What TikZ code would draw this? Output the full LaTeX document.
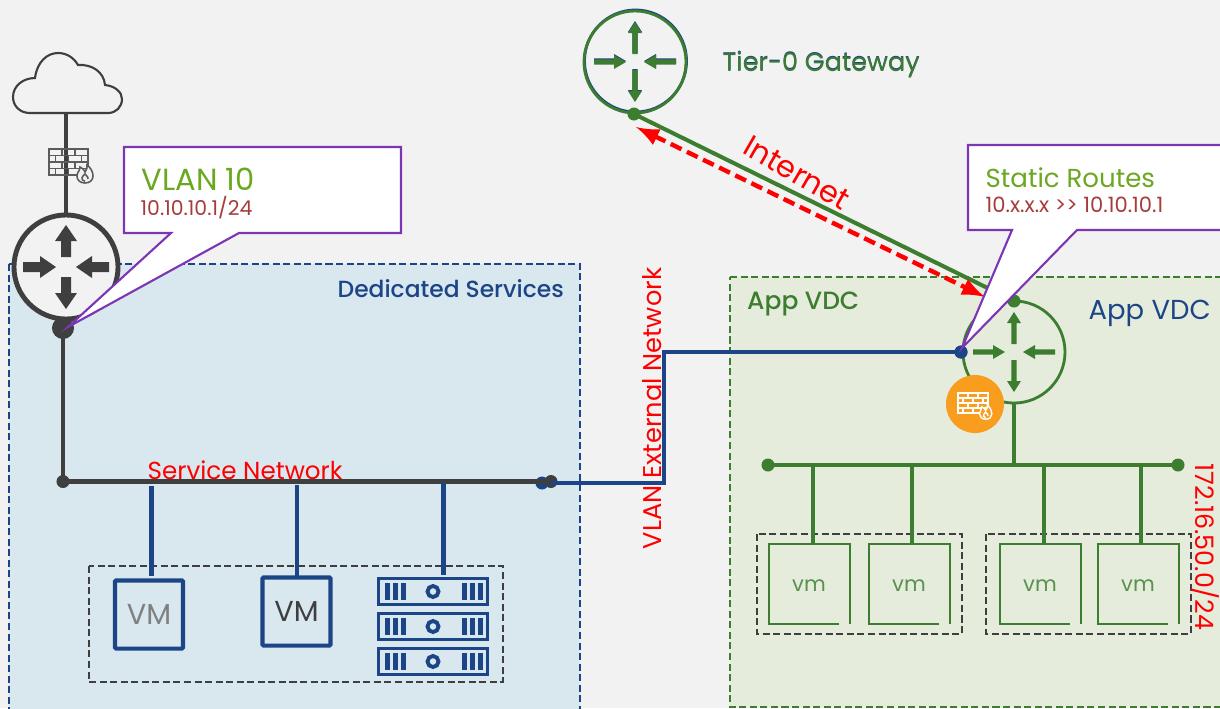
\documentclass[tikz,border=0pt]{standalone}
\usepackage{fontspec}
\setmainfont{Poppins}
\newfontfamily\medfont{Poppins Medium}
\usetikzlibrary{arrows,shapes}
\definecolor{pagegrey}{HTML}{F2F2F2}
\definecolor{svcfill}{HTML}{D9E7EF}
\definecolor{vdcfill}{HTML}{E5ECDC}
\definecolor{navy}{HTML}{1C4587}
\definecolor{leaf}{HTML}{3C7D2F}
\definecolor{coal}{HTML}{3F3F3F}
\definecolor{callout}{HTML}{7B35B5}
\definecolor{lime}{HTML}{6AA820}
\definecolor{rust}{HTML}{A83C3C}
\definecolor{amber}{HTML}{F99D1F}
\tikzset{>=latex,
    lbl/.style={inner sep=0pt,font=\fontsize{#1}{9pt}\selectfont},
    medlbl/.style={inner sep=0pt,font=\medfont\fontsize{#1}{9pt}\selectfont},
    smalllbl/.style={lbl=#1,text=rust},
    dot/.style={circle,fill=#1,inner sep=0pt,minimum size=0.13cm},
    grouped/.style={draw=coal,dashed,line width=0.6pt,dash pattern=on 2pt off 1pt},
    vmbox/.style={draw=navy,line width=1.15pt,rounded corners=0.3pt,inner sep=0pt,minimum size=0.68cm,font=\fontsize{8.2pt}{9pt}\selectfont},
    coalline/.style={draw=coal,line width=1.25pt},
    navyline/.style={draw=navy,line width=1.15pt},
    leafline/.style={draw=leaf,line width=1.15pt},
    callbox/.style={draw=callout,fill=white,line width=0.6pt,line join=miter},
    bigarms/.pic={
        \foreach \a in {90,270}{
            \fill[rotate=\a] (10,-5) -- (26,-5) -- (26,-11) -- (42,0) -- (26,11) -- (26,5) -- (10,5) -- cycle;}
        \foreach \a in {0,180}{
            \fill[rotate=\a] (43,-5) -- (26,-5) -- (26,-11) -- (10,0) -- (26,11) -- (26,5) -- (43,5) -- cycle;}},
    smallarms/.pic={
        \foreach \a in {90,270}{
            \fill[rotate=\a] (8,-2.7) -- (29,-2.7) -- (29,-7) -- (40,0) -- (29,7) -- (29,2.7) -- (8,2.7) -- cycle;}
        \foreach \a in {0,180}{
            \fill[rotate=\a] (41,-2.7) -- (21,-2.7) -- (21,-7) -- (9,0) -- (21,7) -- (21,2.7) -- (41,2.7) -- cycle;}},
    wall/.pic={
        \draw (0,0) rectangle (39,26);
        \foreach \y in {6.5,13,19.5} {\draw (0,\y) -- (39,\y);}
        \foreach \x in {13,26} {\draw (\x,0) -- (\x,6.5); \draw (\x,13) -- (\x,19.5);}
        \foreach \x in {6.5,19.5,32.5} {\draw (\x,6.5) -- (\x,13); \draw (\x,19.5) -- (\x,26);}
        \draw[pic actions] (36,34) .. controls (31,34) and (28,31) .. (28,27) .. controls (28,23) and (31,22) .. (31,18)
            .. controls (34,19) and (35,21) .. (36,23) .. controls (38,21) and (38,18) .. (38,16)
            .. controls (42,19) and (44,23) .. (44,27) .. controls (44,31) and (41,34) .. (36,34) -- cycle;
        \draw (36,32) .. controls (33,32) and (32,29) .. (34,27) .. controls (35,26) and (36,25) .. (36,25)
            .. controls (38,27) and (40,29) .. (39,30);},
    rack/.pic={
        \draw[navy,line width=1.1pt] (1.5,1.5) rectangle (110.5,27.5);
        \foreach \x in {8,16,24,85,93,101} {\fill[navy] (\x,6) rectangle +(5,17);}
        \draw[navy,line width=1.1pt] (56,14.5) circle (5.5);}
}

\begin{document}
\begin{tikzpicture}[x=0.01cm,y=-0.01cm]
    \clip (0,0) rectangle (1220,708);
    \fill[pagegrey] (0,0) rectangle (1220,708);

    % the two zones
    \draw[fill=svcfill,draw=navy,line width=0.5pt,dash pattern=on 2pt off 1pt] (9,264) -- (580,264) -- (580,720) -- (9,720) -- cycle;
    \draw[fill=vdcfill,draw=leaf,line width=0.5pt,dash pattern=on 2pt off 1pt] (730,277) -- (1230,277) -- (1230,707) -- (730,707) -- cycle;
    \node[medlbl=6.65pt,text=navy,anchor=west] (svclabel) at (337,288.5) {Dedicated Services};
    \node[medlbl=7.1pt,text=leaf,anchor=west] (vdcgreen) at (746.5,303.5) {App VDC};
    \node[lbl=7.8pt,text=navy,anchor=west] (vdcnavy) at (1088,313) {App VDC};

    % uplink side
    \draw[coal,line width=0.6pt,fill=pagegrey] (30,113) .. controls (20,113) and (13,106) .. (13,97) .. controls (13,86) and (23,78) .. (35,78)
        .. controls (37,62) and (47,53) .. (58,53) .. controls (67,53) and (74,58) .. (78,65) .. controls (92,64) and (104,72) .. (105,85)
        .. controls (115,86) and (122,92) .. (122,99) .. controls (122,107) and (116,113) .. (108,113) -- cycle;
    \node[circle,draw=coal,fill=pagegrey,line width=1.4pt,inner sep=0pt,minimum size=1.04cm] (edge) at (66,267) {};
    \coordinate (cloudfoot) at (66,113);
    \draw[coalline] (cloudfoot) -- (edge);
    \pic[color=coal] at (66,267) {bigarms};
    \pic[color=coal!85,fill=pagegrey,line width=0.45pt] at (49,149) {wall};
    \node[dot=coal,minimum size=0.22cm] (edgeport) at (63,328) {};
    \node[dot=coal] (svcleft) at (63,481.5) {};
    \node[dot=navy] (svcnavy) at (542,483) {};
    \node[dot=coal] (svcright) at (551,481.5) {};
    \node[dot=navy] (t1port) at (961,352) {};
    \coordinate (risebottom) at (664,483);
    \coordinate (risetop) at (664,352);
    \draw[navyline] (svcnavy.center) -- (risebottom) -- (risetop) -- (t1port.center);
    \draw[coalline] (edgeport.center) -- (svcleft.center) -- (svcright.center);
    \node[lbl=7pt,text=red,anchor=west] (svcnet) at (147,470) {Service Network};
    \node[lbl=7.3pt,text=red,rotate=90] (extnet) at (652,408.5) {VLAN External Network};

    % workloads on the service network
    \draw[grouped] (89,566) rectangle (503,682);
    \node[vmbox,text=gray] (vmone) at (149,614.5) {VM};
    \node[vmbox,text=coal] (vmtwo) at (296.5,611.5) {VM};
    \pic at (377,577) {rack};
    \pic at (377,612) {rack};
    \pic at (377,647) {rack};
    \coordinate (tapone) at (151.5,486);
    \coordinate (taponeb) at (151.5,576);
    \coordinate (taptwo) at (297,485);
    \coordinate (taptwob) at (297,577);
    \coordinate (tapthree) at (443.5,483);
    \coordinate (tapthreeb) at (443.5,575);
    \draw[navyline] (tapone) -- (taponeb);
    \draw[navyline] (taptwo) -- (taptwob);
    \draw[navyline] (tapthree) -- (tapthreeb);

    % tier-0
    \node[circle,draw=navy,line width=0.8pt,inner sep=0pt,minimum size=1.02cm] at (635.5,61) {};
    \node[circle,draw=leaf,line width=0.8pt,inner sep=0pt,minimum size=1.02cm] (tzero) at (635,62) {};
    \pic[color=navy] at (635,61) {smallarms};
    \pic[color=leaf] at (635,62) {smallarms};
    \node[lbl=7.25pt,text=navy,anchor=west] at (722,64) {Tier-0 Gateway};
    \node[lbl=7.25pt,text=leaf,anchor=west] (tzerolabel) at (722,65) {Tier-0 Gateway};
    \node[dot=leaf] (tzeroport) at (634,114) {};

    % tier-1
    \node[circle,draw=leaf,line width=0.8pt,inner sep=0pt,minimum size=1.02cm] (tone) at (1014,352) {};
    \pic[color=leaf] at (1014,352) {smallarms};
    \node[dot=leaf] (toneport) at (1014,301) {};
    \draw[leafline] (tzeroport.center) -- (toneport.center);
    \coordinate (redstart) at (636,127);
    \coordinate (redend) at (985,297);
    \draw[<->,red,line width=1.25pt,dash pattern=on 3.4pt off 1.7pt] (redstart) -- (redend);
    \node[lbl=8.6pt,text=red,rotate=-30] (internet) at (797,173) {Internet};
    \node[dot=navy] at (961,352) {};
    \node[circle,fill=amber,inner sep=0pt,minimum size=0.58cm] (fw) at (975,404) {};
    \pic[color=white,fill=amber,line width=0.4pt,scale=0.77] at (958,393) {wall};

    % app segment
    \node[dot=leaf] (busleft) at (768,465) {};
    \node[dot=leaf] (busright) at (1178,465) {};
    \coordinate (busjoin) at (1014,465);
    \draw[leafline,line width=1.4pt] (busleft.center) -- (busright.center);
    \draw[leafline] (tone) -- (busjoin);
    \draw[grouped] (757,534) rectangle (962,634);
    \draw[grouped] (986,534) rectangle (1191,634);
    \foreach \n/\x in {a/769,b/869,c/1000,d/1098} {
        \draw[leaf,line width=0.6pt] (\x+70,624) -- (\x,624) -- (\x,544) -- (\x+81,544) -- (\x+81,624);
        \node[lbl=6pt,text=leaf!85!white] (vm\n) at (\x+40,585.5) {vm};
    }
    \foreach \n/\x in {a/813,b/912,c/1044,d/1141} {
        \coordinate (drop\n) at (\x,465);
        \coordinate (drop\n b) at (\x,543);
        \draw[leafline] (drop\n) -- (drop\n b);
    }
    \node[lbl=7.2pt,text=red,rotate=-90] (subnet) at (1205,547) {172.16.50.0/24};

    % callouts
    \draw[callbox] (124,147) -- (401,147) -- (401,233) -- (239,233) -- (68,327) -- (171,233) -- (124,233) -- cycle;
    \node[lbl=8.7pt,text=lime,anchor=west] (vlanname) at (141,179.5) {VLAN 10};
    \node[smalllbl=5.8pt,anchor=west] (vlanip) at (140,208) {10.10.10.1/24};
    \draw[callbox] (968,145) -- (1230,145) -- (1230,230) -- (1077,230) -- (962,348) -- (1012,230) -- (968,230) -- cycle;
    \node[lbl=7.4pt,text=lime,anchor=west] (routename) at (985,178) {Static Routes};
    \node[smalllbl=6pt,anchor=west] (routeip) at (985,205) {10.x.x.x >{}> 10.10.10.1};
\end{tikzpicture}
\end{document}
